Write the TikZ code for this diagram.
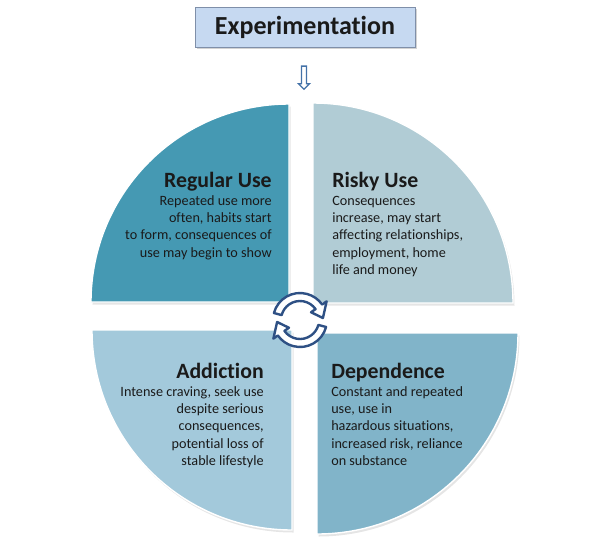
\documentclass[tikz,border=0pt]{standalone}
\usepackage{fontspec}
\setmainfont{Carlito}[Ligatures=NoCommon]
\usetikzlibrary{shapes.arrows,shadows}
\definecolor{tlblue}{HTML}{4599B3}
\definecolor{trblue}{HTML}{B1CCD5}
\definecolor{blblue}{HTML}{A3C9DB}
\definecolor{brblue}{HTML}{81B4C9}
\definecolor{boxfill}{HTML}{C6D9F1}
\definecolor{boxline}{HTML}{7F8FA9}
\definecolor{navy}{HTML}{2E5084}
\definecolor{arrowc}{HTML}{4472A8}
\definecolor{txt}{HTML}{1A1A1A}
\newcommand{\stagehead}{\fontsize{15.5}{18}\selectfont\bfseries}
\newcommand{\quarter}[6]{\fill[black!10] (#1+1.5,#2-2.5) -- ++(#3:#5) arc (#3:#4:#5) -- cycle;
\fill[#6,draw=white,line width=1pt] (#1,#2) -- ++(#3:#5) arc (#3:#4:#5) -- cycle;}
\newcommand{\cycarrow}[1]{\begin{scope}[shift={(cyc)},rotate=#1]
\draw[navy,fill=white,line width=1.7pt,line join=round] (165:27) arc (165:35:27) -- (35:32.5) -- (5:23) -- (35:13.5) -- (35:19) arc (35:165:19) -- cycle;
\end{scope}}

\begin{document}
\begin{tikzpicture}[scale=.025,
  stage/.style={inner sep=0pt,text=txt,font=\fontsize{10.1}{12.4}\selectfont},
  expbox/.style={draw=boxline,fill=boxfill,minimum width=5.5cm,minimum height=1cm,text=txt,
    font=\fontsize{18.5}{22}\selectfont\bfseries,drop shadow={opacity=.35,shadow xshift=1.5pt,shadow yshift=-1.5pt}},
  downarrow/.style={single arrow,draw=arrowc,fill=white,rotate=-90,minimum height=.58cm,inner sep=1.3pt,
    single arrow head extend=2.2pt,line width=.9pt}]
\useasboundingbox (-302,-221) rectangle (298,318);
\quarter{-13}{16}{90}{180}{198}{tlblue}
\quarter{11}{15}{0}{90}{200}{trblue}
\quarter{-10}{-12}{180}{270}{200}{blblue}
\quarter{15}{-15}{270}{360}{201}{brblue}
\coordinate (cyc) at (-2,-2);
\cycarrow{0}\cycarrow{180}
\node[expbox] (exp) at (3,291) {Experimentation};
\node[downarrow] (dn) at (2,241.5) {};
\node[stage,align=right,anchor=north east] (reg) at (-30,146) {{\stagehead Regular Use}\\Repeated use more\\often, habits start\\to form, consequences of\\use may begin to show};
\node[stage,align=left,anchor=north west] (risky) at (30,146) {{\stagehead Risky Use}\\Consequences\\increase, may start\\affecting relationships,\\employment, home\\life and money};
\node[stage,align=right,anchor=north east] (addict) at (-38,-45) {{\stagehead Addiction}\\Intense craving, seek use\\despite serious\\consequences,\\potential loss of\\stable lifestyle};
\node[stage,align=left,anchor=north west] (dep) at (29,-45) {{\stagehead Dependence}\\Constant and repeated\\use, use in\\hazardous situations,\\increased risk, reliance\\on substance};
\end{tikzpicture}
\end{document}
